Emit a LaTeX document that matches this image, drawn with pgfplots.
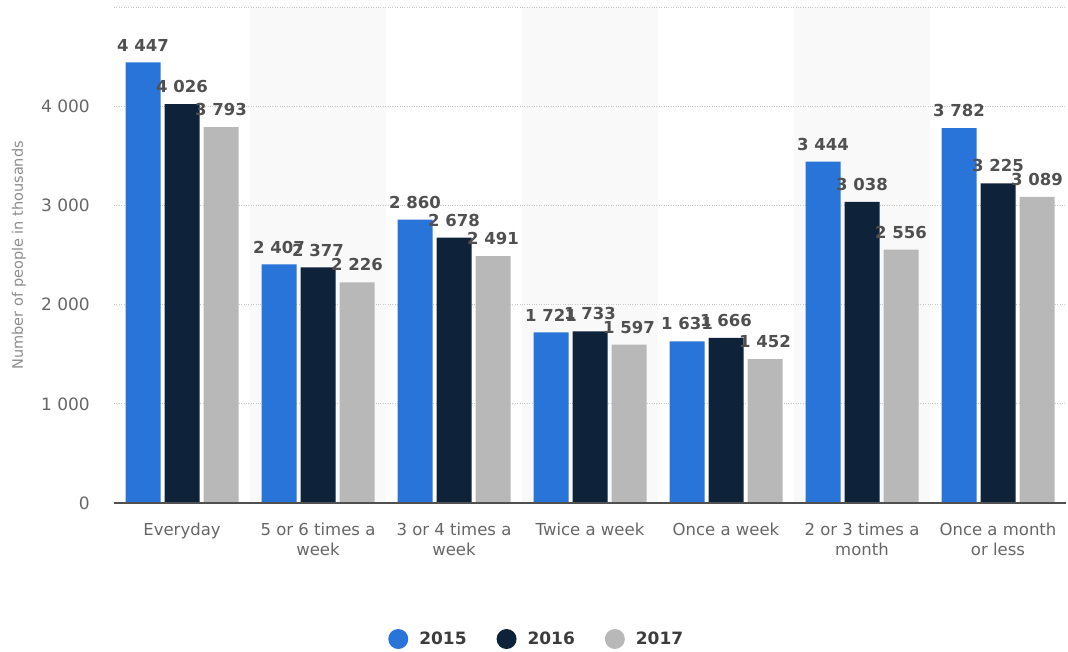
\documentclass[border=0pt]{standalone}
\usepackage{pgfplots}
\pgfplotsset{compat=1.18}
\usepackage{fontspec}
\setmainfont{DejaVu Sans}

\definecolor{c15}{RGB}{40,116,216}
\definecolor{c16}{RGB}{14,34,58}
\definecolor{c17}{RGB}{184,184,184}
\definecolor{band}{RGB}{249,249,249}
\definecolor{lbl}{RGB}{80,80,80}
\definecolor{tickcol}{RGB}{102,102,102}
\definecolor{ylabcol}{RGB}{140,140,140}
\definecolor{gridcol}{RGB}{200,200,200}
\definecolor{axiscol}{RGB}{80,80,80}
\definecolor{legcol}{RGB}{60,60,60}

\begin{document}
\begin{tikzpicture}
\begin{axis}[
  set layers,
  at={(114pt,148pt)}, anchor=south west,
  scale only axis, width=952pt, height=495.5pt,
  xmin=-0.5, xmax=6.5, ymin=0, ymax=5000,
  ybar=4pt, bar width=35pt,
  xtick={0,...,6},
  xticklabels={Everyday,{5 or 6 times a\\week},{3 or 4 times a\\week},Twice a week,Once a week,{2 or 3 times a\\month},{Once a month\\or less}},
  ytick={0,1000,...,4000},
  extra y ticks={5000}, extra y tick labels={},
  extra y tick style={grid=major},
  /pgf/number format/assume math mode=true,
  /pgf/number format/1000 sep={\ },
  major tick length=0pt,
  axis x line*=bottom, axis y line*=left,
  x axis line style={draw=none},
  y axis line style={draw=none},
  ymajorgrids,
  grid style={dotted, gridcol, line width=1pt},
  xticklabel style={font=\fontsize{16.5}{20}\selectfont, text=tickcol, align=center, anchor=north, inner sep=0pt, yshift=-20pt},
  yticklabel style={font=\fontsize{17}{18}\selectfont, text=tickcol, anchor=east, inner sep=0pt, xshift=-24pt},
  ylabel={Number of people in thousands},
  ylabel style={at={(axis description cs:-0.0998,0.5)}, anchor=center, font=\fontsize{14.5}{16}\selectfont, text=ylabcol},
  nodes near coords,
  every node near coord/.append style={font=\bfseries\fontsize{16.5}{18}\selectfont, text=lbl, anchor=south, inner sep=0pt, yshift=11pt},
  legend columns=-1,
  legend style={at={(0.443,-0.2745)}, anchor=center, draw=none, fill=none, inner sep=0pt,
    font=\bfseries\fontsize{17}{20}\selectfont, text=legcol,
    nodes={inner sep=0pt},
    /tikz/every odd column/.append style={column sep=11pt},
    /tikz/every even column/.append style={column sep=30pt}},
  every axis plot post/.append style={legend image code/.code={\fill (0pt,0pt) circle (10pt);}},
]
\begin{pgfonlayer}{axis background}
\fill[band] (axis cs:0.5,0) rectangle (axis cs:1.5,5000);
\fill[band] (axis cs:2.5,0) rectangle (axis cs:3.5,5000);
\fill[band] (axis cs:4.5,0) rectangle (axis cs:5.5,5000);
\end{pgfonlayer}
\addplot[fill=c15, draw=none] coordinates {(0,4447) (1,2407) (2,2860) (3,1721) (4,1631) (5,3444) (6,3782)};
\addplot[fill=c16, draw=none] coordinates {(0,4026) (1,2377) (2,2678) (3,1733) (4,1666) (5,3038) (6,3225)};
\addplot[fill=c17, draw=none] coordinates {(0,3793) (1,2226) (2,2491) (3,1597) (4,1452) (5,2556) (6,3089)};
\legend{2015,2016,2017}
\draw[axiscol, line width=1.5pt] (rel axis cs:0,0) -- (rel axis cs:1,0);
\end{axis}
\path (0,0) rectangle (1068pt,651pt);
\end{tikzpicture}
\end{document}
